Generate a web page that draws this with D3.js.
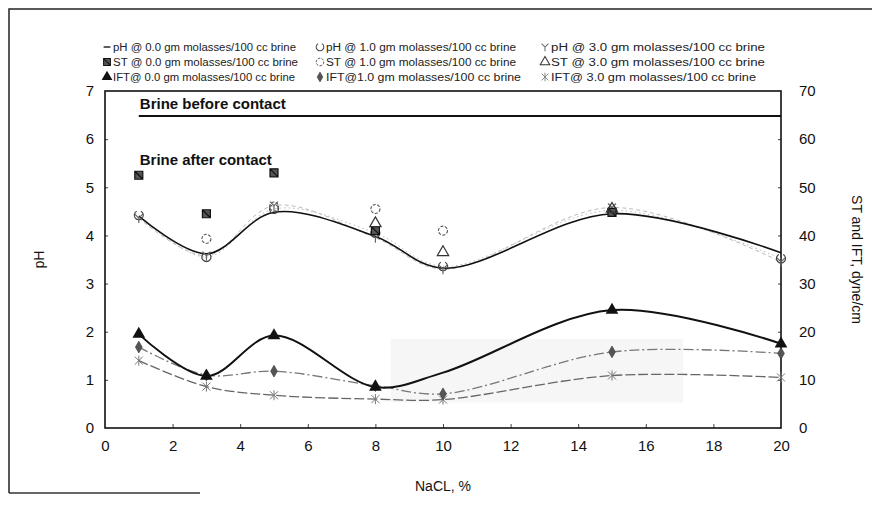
<!DOCTYPE html>
<html><head><meta charset="utf-8">
<script src="https://cdn.jsdelivr.net/npm/d3@7/dist/d3.min.js"></script>
<style>
html,body{margin:0;padding:0;background:#fff;}
svg{display:block;font-family:"Liberation Sans",Arial,sans-serif;}
</style></head>
<body><svg id="c" width="872" height="511"></svg>
<script>
// ---- data ----
const nacl = [1, 3, 5, 8, 10, 15, 20];
const xTicks = [0, 2, 4, 6, 8, 10, 12, 14, 16, 18, 20];
const phTicks = [0, 1, 2, 3, 4, 5, 6, 7];
const stTicks = [0, 10, 20, 30, 40, 50, 60, 70];
const phBefore = 6.48;
const ph0 = [4.40, 3.62, 4.48, 3.98, 3.32, 4.45, 3.64];
const ph1 = [4.42, 3.55, 4.55, 4.05, 3.36, 4.52, 3.52];
const ph3 = [4.36, 3.58, 4.62, 3.95, 3.30, 4.58, 3.45];
const st0 = [52.5, 44.5, 53.0, 41.0, null, 44.8, null];
const st1 = [null, 39.3, 46.0, 45.5, 41.0, null, null];
const st3 = [null, null, null, 42.5, 36.5, 45.5, null];
const ift0 = [19.5, 10.8, 19.2, 8.5, 11.5, 24.5, 17.5];
const ift0Marked = [true, true, true, true, false, true, true];
const ift1 = [16.8, 11.0, 11.8, 8.8, 7.1, 15.8, 15.5];
const ift3 = [14.0, 8.6, 6.8, 6.0, 5.9, 10.9, 10.5];
const legendRows = [
  ["pH @ 0.0 gm molasses/100 cc brine", "pH @ 1.0 gm molasses/100 cc brine", "pH @ 3.0 gm molasses/100 cc brine"],
  ["ST @ 0.0 gm molasses/100 cc brine", "ST @ 1.0 gm molasses/100 cc brine", "ST @ 3.0 gm molasses/100 cc brine"],
  ["IFT@ 0.0 gm molasses/100 cc brine", "IFT@1.0 gm molasses/100 cc brine", "IFT@ 3.0 gm molasses/100 cc brine"]
];
const labelBefore = "Brine before contact";
const labelAfter = "Brine after contact";

// ---- layout ----
const svg = d3.select("#c");
const L = 105, R = 781, T = 91, B = 428;
const x = d3.scaleLinear().domain([0, 20]).range([L, R]);
const yPH = d3.scaleLinear().domain([0, 7]).range([B, T]);
const yST = d3.scaleLinear().domain([0, 70]).range([B, T]);
const ink = "#111";

// outer frame (scan border)
svg.append("path").attr("d", d3.line()([[9, 493], [9, 9], [872, 9]]))
  .attr("fill", "none").attr("stroke", "#222").attr("stroke-width", 1.5);
svg.append("line").attr("x1", 9).attr("x2", 200).attr("y1", 493).attr("y2", 493)
  .attr("stroke", "#333").attr("stroke-width", 1.5);

// faint scan shading
svg.append("rect").attr("x", x(8.45)).attr("y", yST(18.5))
  .attr("width", x(17.1) - x(8.45)).attr("height", yST(5.3) - yST(18.5))
  .attr("fill", "#f6f6f6");

// axes
const axB = svg.append("g").attr("transform", `translate(0,${B})`)
  .call(d3.axisBottom(x).tickValues(xTicks).tickSize(-4).tickPadding(12).tickFormat(d3.format("d")));
const axL = svg.append("g").attr("transform", `translate(${L},0)`)
  .call(d3.axisLeft(yPH).tickValues(phTicks).tickSize(-3).tickPadding(11).tickFormat(d3.format("d")));
const axR = svg.append("g").attr("transform", `translate(${R},0)`)
  .call(d3.axisRight(yST).tickValues(stTicks).tickSize(-3).tickPadding(18).tickFormat(d3.format("d")));
[axB, axL, axR].forEach(a => {
  a.select(".domain").remove();
  a.selectAll("line").attr("stroke", "#444");
  a.selectAll("text").attr("font-size", 15).attr("fill", ink);
});
axL.selectAll(".tick line").filter(d => d === 0 || d === 7).remove();
axR.selectAll(".tick line").filter(d => d === 0 || d === 70).remove();
axB.selectAll(".tick line").filter(d => d === 0 || d === 20).remove();
svg.append("rect").attr("x", L).attr("y", T).attr("width", R - L).attr("height", B - T)
  .attr("fill", "none").attr("stroke", ink).attr("stroke-width", 1.6);

// axis titles
svg.append("text").attr("transform", `translate(44,${(T + B) / 2}) rotate(-90)`)
  .attr("text-anchor", "middle").attr("font-size", 14).attr("fill", ink).text("pH");
svg.append("text").attr("transform", `translate(852,${(T + B) / 2}) rotate(90)`)
  .attr("text-anchor", "middle").attr("font-size", 14).attr("fill", ink).text("ST and IFT, dyne/cm");
svg.append("text").attr("x", x(10)).attr("y", 491)
  .attr("text-anchor", "middle").attr("font-size", 14).attr("fill", ink).text("NaCL, %");

// brine before contact line + labels
svg.append("line").attr("x1", x(1)).attr("x2", x(20)).attr("y1", yPH(phBefore)).attr("y2", yPH(phBefore))
  .attr("stroke", ink).attr("stroke-width", 2);
svg.append("text").attr("x", x(1) + 1).attr("y", 109).attr("font-size", 15).attr("font-weight", "bold")
  .attr("fill", ink).attr("textLength", 146).attr("lengthAdjust", "spacingAndGlyphs").text(labelBefore);
svg.append("text").attr("x", x(1) + 1).attr("y", 165).attr("font-size", 15).attr("font-weight", "bold")
  .attr("fill", ink).attr("textLength", 132).attr("lengthAdjust", "spacingAndGlyphs").text(labelAfter);

// helpers
const pts = (vals, ys, mask) => nacl.map((n, i) => [x(n), (vals[i] == null || (mask && !mask[i])) ? null : ys(vals[i])]).filter(p => p[1] != null);
const smooth = d3.line().curve(d3.curveCatmullRom.alpha(0.5));
function curve(vals, ys, stroke, width, dash) {
  svg.append("path").attr("d", smooth(pts(vals, ys))).attr("fill", "none")
    .attr("stroke", stroke).attr("stroke-width", width).attr("stroke-dasharray", dash || null);
}
const sym = (type, size) => d3.symbol().type(type).size(size)();
const asterisk = "M-4,-4L4,4M-4,4L4,-4M0,-5L0,5";
const boxX = "M-4,-4H4V4H-4Z M-4,-4L4,4";
function markers(vals, ys, drawFn, mask) {
  pts(vals, ys, mask).forEach(p => drawFn(svg.append("g").attr("transform", `translate(${p[0]},${p[1]})`)));
}
const mk = {
  ph1: g => g.append("path").attr("d", d3.arc()({innerRadius: 4.5, outerRadius: 4.5, startAngle: 0.5, endAngle: 2 * Math.PI - 0.5}))
    .attr("fill", "none").attr("stroke", "#444").attr("stroke-width", 1.2),
  ph3: g => g.append("path").attr("d", "M-4,-4L0,0L4,-4M0,0V5").attr("fill", "none").attr("stroke", "#666").attr("stroke-width", 1.2),
  st0: g => g.append("path").attr("d", boxX).attr("fill", "#555").attr("stroke", "#111").attr("stroke-width", 1.2),
  st1: g => g.append("circle").attr("r", 4.5).attr("fill", "none").attr("stroke", "#555").attr("stroke-width", 1.1).attr("stroke-dasharray", "3,1.5"),
  st3: g => g.append("path").attr("d", sym(d3.symbolTriangle, 55)).attr("fill", "none").attr("stroke", "#333").attr("stroke-width", 1.2),
  ift0: g => g.append("path").attr("d", sym(d3.symbolTriangle, 70)).attr("fill", ink),
  ift1: g => g.append("path").attr("d", sym(d3.symbolDiamond, 40)).attr("fill", "#555").attr("stroke", "#333").attr("stroke-width", 0.6),
  ift3: g => g.append("path").attr("d", asterisk).attr("fill", "none").attr("stroke", "#777").attr("stroke-width", 1)
};

// upper group (pH and ST)
curve(ph1, yPH, "#bbb", 1, "1.5,3");
curve(ph3, yPH, "#bbb", 1, "4,3");
curve(ph0, yPH, ink, 1.6);
markers(ph1, yPH, mk.ph1);
markers(ph3, yPH, mk.ph3);
markers(st0, yST, mk.st0);
markers(st1, yST, mk.st1);
markers(st3, yST, mk.st3);

// lower group (IFT)
curve(ift3, yST, "#666", 1.3, "10,3");
curve(ift1, yST, "#777", 1.3, "10,3,2,3");
curve(ift0, yST, ink, 2);
markers(ift3, yST, mk.ift3);
markers(ift1, yST, mk.ift1);
markers(ift0, yST, mk.ift0, ift0Marked);

// legend
const colX = [103, 316, 541];
const rowY = [47, 62, 77];
const widths = [[193, 200, 224], [195, 200, 224], [192, 205, 215]];
const legMk = [
  [g => g.append("line").attr("x1", -4).attr("x2", 4).attr("stroke", ink).attr("stroke-width", 1.6), mk.ph1, mk.ph3],
  [mk.st0, mk.st1, mk.st3],
  [mk.ift0, mk.ift1, mk.ift3]
];
legendRows.forEach((row, r) => row.forEach((label, c) => {
  const g = svg.append("g").attr("transform", `translate(${colX[c] + 4},${rowY[r]})`).append("g").attr("transform", "scale(0.85)");
  legMk[r][c](g);
  svg.append("text").attr("x", colX[c] + 10).attr("y", rowY[r] + 3.5).attr("font-size", 10)
    .attr("fill", "#222").attr("textLength", widths[r][c] - 10).attr("lengthAdjust", "spacingAndGlyphs").text(label);
}));
</script></body></html>
